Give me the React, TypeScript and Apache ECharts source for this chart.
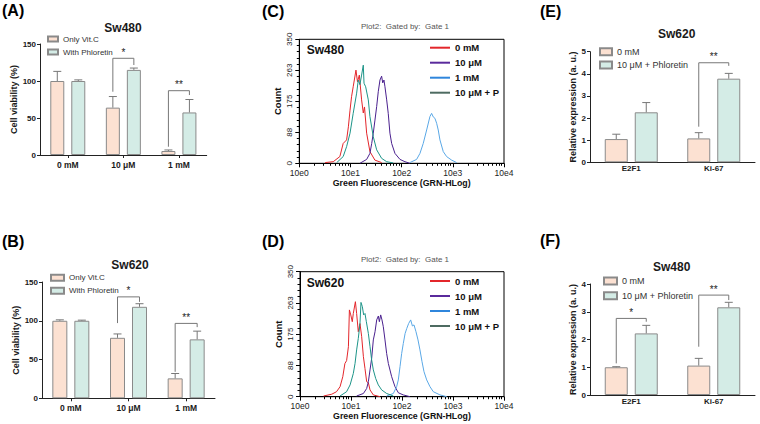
import React, { useEffect, useRef } from "react";
import * as echarts from "echarts";

const FONT = "'Liberation Sans', Arial, Helvetica, sans-serif";

// ---------- Bar panels data ----------
const concCats = ["0 mM", "10 μM", "1 mM"];
const aVitC = [100, 64, 5.4];
const aVitCTop = [113, 79, 6.8];
const aPhlor = [100, 115, 57.5];
const aPhlorTop = [101.5, 117.5, 75];
const aBrackets = [[1, 85.5, 130.7, 121.6], [2, 11.2, 86.9, 81]];
const aStars = ["*", "**"];

const bVitC = [100, 78, 25.7];
const bVitCTop = [101.2, 83, 32];
const bPhlor = [100, 118, 76];
const bPhlorTop = [100.8, 122, 86.6];
const bBrackets = [[1, 97, 130.8, 124.4], [2, 34.2, 96.6, 91.8]];
const bStars = ["*", "**"];

const geneCats = ["E2F1", "Ki-67"];
const eCtrl = [1.05, 1.08];
const eCtrlTop = [1.27, 1.34];
const eTreat = [2.26, 3.78];
const eTreatTop = [2.7, 4.02];
const eBrackets = [[1, 1.61, 4.5, 4.36]];
const eStars = ["**"];

const fCtrl = [1.0, 1.06];
const fCtrlTop = [1.02, 1.32];
const fTreat = [2.22, 3.16];
const fTreatTop = [2.51, 3.34];
const fBrackets = [[0, 1.14, 2.76, 2.64], [1, 1.74, 3.6, 3.42]];
const fStars = ["*", "**"];

// ---------- Flow cytometry histograms (fluorescence, count) ----------
const cRed = [[3.2, 2], [4.6, 4.5], [6.2, 19], [7.2, 56], [8.4, 66], [9.1, 103], [9.8, 150], [10.5, 188], [11.3, 216], [12.8, 263], [13.7, 230], [14.9, 249], [16.5, 179], [17.8, 142], [18.8, 159], [20.7, 85], [24, 33], [30, 9], [40.6, 2]];
const cPurple = [[15.3, 0], [20.7, 11], [24, 28], [26, 56], [27.9, 85], [30.1, 122], [32.5, 160], [34.9, 202], [37.7, 235], [40.6, 246], [42.7, 227], [45.1, 235], [47.2, 216], [51, 179], [54.7, 141], [59, 85], [63.8, 56], [74, 28], [92.7, 11], [116, 4.5], [145, 0]];
const cBlue = [[145, 2], [196, 11], [228, 28], [264, 56], [308, 94], [357, 132], [385, 141], [414, 131], [447, 127], [483, 113], [519, 94], [560, 66], [650, 33], [757, 19], [948, 9], [1186, 2]];
const cTeal = [[5.4, 2], [7.2, 19], [8.4, 47], [9.8, 85], [11.3, 141], [13.2, 198], [14.2, 235], [15.3, 222], [16.5, 249], [17.8, 277], [18.4, 226], [19.8, 216], [22.3, 179], [24, 132], [27.9, 75], [32.5, 38], [40.6, 14], [51, 4.5], [68.5, 1]];

const dRed = [[2.9, 2], [4.2, 7], [5.2, 14], [6.1, 28], [6.9, 56], [7.6, 93], [8.2, 101], [8.9, 140], [9.3, 243], [9.9, 229], [10.6, 210], [11.1, 233], [12.2, 266], [12.9, 233], [13.9, 182], [15, 205], [16.2, 168], [17.5, 112], [18.8, 79], [20.3, 42], [21.9, 39], [23.6, 19], [27.4, 5], [37, 0]];
const dPurple = [[12.9, 2], [17.5, 9], [20.3, 23], [21.9, 42], [23.6, 75], [25.4, 107], [27.4, 159], [29.6, 182], [31.9, 215], [34.4, 226], [36, 210], [38.2, 229], [40.5, 215], [43, 196], [46.4, 159], [50, 121], [54, 93], [62.7, 56], [72.9, 28], [84.8, 11], [106, 5], [143, 0]];
const dBlue = [[50, 2], [67.6, 9], [78.5, 28], [84.7, 47], [91.4, 84], [98.5, 121], [106, 149], [115, 177], [124, 191], [135, 205], [148, 215], [160, 198], [172, 201], [188, 182], [206, 159], [225, 131], [247, 98], [270, 70], [305, 47], [354, 28], [411, 14], [556, 5], [751, 0]];
const dTeal = [[6.1, 2], [8.2, 14], [9.6, 33], [11.1, 65], [12, 93], [12.9, 131], [13.9, 163], [15, 205], [15.7, 264], [16.7, 252], [17.7, 229], [18.8, 233], [20, 210], [21.9, 177], [23.6, 140], [25.4, 103], [27.4, 75], [30.5, 51], [34.3, 33], [39.9, 19], [50, 9], [67.6, 2]];

const histNames = ["0 mM", "10 μM", "1 mM", "10 μM + P"];
const countTicks = [0, 87.5, 175, 262.5, 350];

const PEACH = "#fce1d2";
const GREEN = "#d4ece6";
const BORDER = "#8a8a8a";
const TXT = "#1a1a1a";

function txt(text: string, x: number, y: number, size: number, weight: string, color: string, align = "left") {
  return {
    type: "text",
    x,
    y,
    style: {
      text,
      fontFamily: FONT,
      fontSize: size,
      fontWeight: weight,
      fill: color,
      align,
      verticalAlign: "middle",
      textAlign: align,
      textVerticalAlign: "middle",
    },
  };
}

function errorItem(offset: number, capHalf: number) {
  return (params: any, api: any) => {
    const c = api.value(0);
    const base = api.coord([c, api.value(1)]);
    const top = api.coord([c, api.value(2)]);
    const x = base[0] + offset;
    return {
      type: "group",
      children: [
        { type: "line", shape: { x1: x, y1: base[1], x2: x, y2: top[1] }, style: { stroke: "#777", lineWidth: 1 } },
        { type: "line", shape: { x1: x - capHalf, y1: top[1], x2: x + capHalf, y2: top[1] }, style: { stroke: "#777", lineWidth: 1 } },
      ],
    };
  };
}

function bracketItem(offset: number, stars: string[], starSize: number) {
  return (params: any, api: any) => {
    const c = api.value(0);
    const l = api.coord([c, api.value(1)]);
    const t = api.coord([c, api.value(2)]);
    const r = api.coord([c, api.value(3)]);
    const xl = l[0] - offset;
    const xr = l[0] + offset;
    return {
      type: "group",
      children: [
        {
          type: "polyline",
          shape: { points: [[xl, l[1]], [xl, t[1]], [xr, t[1]], [xr, r[1]]] },
          style: { stroke: "#777", lineWidth: 1, fill: null },
        },
        {
          type: "text",
          style: {
            text: stars[params.dataIndex],
            x: (xl + xr) / 2,
            y: t[1] - 1,
            align: "center",
            verticalAlign: "bottom",
            fontSize: starSize,
            fontFamily: FONT,
            fill: "#222",
          },
        },
      ],
    };
  };
}

function barPanel(p: any) {
  const off = (p.barWidth + p.gap) / 2;
  return {
    animation: false,
    textStyle: { fontFamily: FONT },
    grid: { left: p.left, top: p.top, width: p.width, height: p.height },
    graphic: [
      txt(p.label, p.labelX, p.labelY, 16, "bold", "#000"),
      txt(p.title, p.titleX, p.titleY, 12, "bold", TXT, "center"),
    ],
    legend: {
      orient: "vertical",
      left: p.legLeft,
      top: p.legTop,
      padding: 0,
      itemWidth: p.legW,
      itemHeight: p.legH,
      itemGap: p.legGap,
      icon: "rect",
      data: [p.n1, p.n2],
      textStyle: { fontFamily: FONT, fontSize: p.legFont, color: "#333", lineHeight: p.legLine },
      selectedMode: false,
    },
    xAxis: {
      type: "category",
      data: p.cats,
      axisLine: { lineStyle: { color: "#222", width: 1 } },
      axisTick: { show: p.xTicks, alignWithLabel: true, length: 3, lineStyle: { color: "#222" } },
      axisLabel: { fontFamily: FONT, fontWeight: "bold", fontSize: p.xFont, color: TXT, margin: p.xMargin },
      splitLine: { show: false },
    },
    yAxis: {
      type: "value",
      min: 0,
      max: p.max,
      interval: p.interval,
      name: p.yName,
      nameLocation: "middle",
      nameGap: p.nameGap,
      nameTextStyle: { fontFamily: FONT, fontWeight: "bold", fontSize: p.nameFont, color: TXT },
      axisLine: { show: true, lineStyle: { color: "#222", width: 1 } },
      axisTick: { show: true, length: 3, lineStyle: { color: "#222" } },
      axisLabel: { fontFamily: FONT, fontWeight: "bold", fontSize: 8, color: TXT, margin: 4 },
      splitLine: { show: false },
    },
    series: [
      {
        type: "bar",
        name: p.n1,
        data: p.v1,
        barWidth: p.barWidth,
        barGap: (p.gap / p.barWidth) * 100 + "%",
        itemStyle: { color: PEACH, borderColor: BORDER, borderWidth: 1 },
      },
      {
        type: "bar",
        name: p.n2,
        data: p.v2,
        barWidth: p.barWidth,
        itemStyle: { color: GREEN, borderColor: BORDER, borderWidth: 1 },
      },
      {
        type: "custom",
        renderItem: errorItem(-off, 4),
        data: p.v1.map((v: number, i: number) => [i, v, p.t1[i]]),
        z: 5,
      },
      {
        type: "custom",
        renderItem: errorItem(off, 4),
        data: p.v2.map((v: number, i: number) => [i, v, p.t2[i]]),
        z: 5,
      },
      {
        type: "custom",
        renderItem: bracketItem(off, p.stars, 10),
        data: p.brackets,
        z: 5,
      },
    ],
  };
}

const histColors = ["#e3262b", "#4a208e", "#5aa8e6", "#1d9488"];
const histLegendColors = ["#e3262b", "#5a2a9c", "#2f86dc", "#4d6b61"];

function histPanel(p: any) {
  const sets = p.sets;
  return {
    animation: false,
    textStyle: { fontFamily: FONT },
    grid: {
      left: p.left,
      top: p.top,
      width: p.width,
      height: p.height,
      show: true,
      borderColor: "#000",
      borderWidth: 1,
      backgroundColor: "transparent",
    },
    graphic: [
      txt(p.label, 262, p.labelY, 16, "bold", "#000"),
      txt("Plot2:  Gated by:  Gate 1", 405, p.plotY, 8, "normal", "#555", "center"),
      txt(p.cell, 306.7, p.cellY, 12, "bold", "#111"),
    ],
    legend: {
      orient: "vertical",
      left: 430,
      top: p.legTop,
      padding: 0,
      itemWidth: 20,
      itemHeight: 2,
      itemGap: 4,
      icon: "rect",
      selectedMode: false,
      data: histNames.map((n, i) => ({
        name: n,
        itemStyle: { color: histLegendColors[i] },
        lineStyle: { color: histLegendColors[i] },
      })),
      textStyle: { fontFamily: FONT, fontSize: 9.5, fontWeight: "bold", color: "#111", lineHeight: 11 },
    },
    xAxis: {
      type: "log",
      logBase: 10,
      min: 1,
      max: 10000,
      name: "Green Fluorescence (GRN-HLog)",
      nameLocation: "middle",
      nameGap: 15,
      nameTextStyle: { fontFamily: FONT, fontWeight: "bold", fontSize: 8.8, color: "#111" },
      axisLine: { lineStyle: { color: "#000", width: 1 } },
      axisTick: { length: 4, lineStyle: { color: "#000" } },
      minorTick: { show: true, splitNumber: 9, length: 2.5, lineStyle: { color: "#000" } },
      axisLabel: {
        fontFamily: FONT,
        fontSize: 8.5,
        color: "#222",
        margin: 5,
        formatter: (v: number) => "10e" + Math.round(Math.log10(v)),
      },
      splitLine: { show: false },
    },
    yAxis: {
      type: "value",
      min: countTicks[0],
      max: countTicks[countTicks.length - 1],
      interval: countTicks[1],
      name: "Count",
      nameLocation: "middle",
      nameGap: 17,
      nameTextStyle: { fontFamily: FONT, fontWeight: "bold", fontSize: 9.5, color: "#111" },
      axisLine: { show: true, lineStyle: { color: "#000", width: 1 } },
      axisTick: { show: true, length: 4, lineStyle: { color: "#000" } },
      minorTick: { show: true, splitNumber: 5, length: 2.5, lineStyle: { color: "#000" } },
      axisLabel: {
        rotate: 90,
        fontFamily: FONT,
        fontSize: 8,
        color: "#222",
        margin: 6,
        formatter: (v: number) => String(Math.round(v)),
      },
      splitLine: { show: false },
    },
    series: histNames.map((n, i) => ({
      type: "line",
      name: n,
      data: sets[i],
      showSymbol: false,
      symbol: "none",
      lineStyle: { width: 1, color: histColors[i] },
      itemStyle: { color: histColors[i] },
      z: i === 3 ? 3 : 2,
    })),
  };
}

const optA = barPanel({
  left: 40, top: 44, width: 166.7, height: 111,
  label: "(A)", labelX: 2, labelY: 10,
  title: "Sw480", titleX: 123, titleY: 28,
  legLeft: 47, legTop: 34, legW: 10, legH: 5, legGap: 3, legFont: 8, legLine: 10,
  n1: "Only Vit.C", n2: "With Phloretin",
  cats: concCats, xTicks: true, xFont: 8.5, xMargin: 5,
  max: 150, interval: 50, yName: "Cell viability (%)", nameGap: 20, nameFont: 9,
  barWidth: 14, gap: 7,
  v1: aVitC, t1: aVitCTop, v2: aPhlor, t2: aPhlorTop, brackets: aBrackets, stars: aStars,
});

const optB = barPanel({
  left: 42, top: 282, width: 173, height: 116.3,
  label: "(B)", labelX: 2, labelY: 241,
  title: "Sw620", titleX: 130, titleY: 265,
  legLeft: 50, legTop: 272.7, legW: 13, legH: 6, legGap: 3, legFont: 8, legLine: 10,
  n1: "Only Vit.C", n2: "With Phloretin",
  cats: concCats, xTicks: true, xFont: 8.5, xMargin: 5,
  max: 150, interval: 50, yName: "Cell viability (%)", nameGap: 20, nameFont: 9,
  barWidth: 15, gap: 7,
  v1: bVitC, t1: bVitCTop, v2: bPhlor, t2: bPhlorTop, brackets: bBrackets, stars: bStars,
});

const optE = barPanel({
  left: 590, top: 51.7, width: 165, height: 110.6,
  label: "(E)", labelX: 540, labelY: 11,
  title: "Sw620", titleX: 676.7, titleY: 34.3,
  legLeft: 599, legTop: 46.7, legW: 12, legH: 7, legGap: 3.3, legFont: 9, legLine: 10,
  n1: "0 mM", n2: "10 μM + Phloretin",
  cats: geneCats, xTicks: false, xFont: 8, xMargin: 2,
  max: 5, interval: 1, yName: "Relative expression (a. u.)", nameGap: 13, nameFont: 9,
  barWidth: 23, gap: 7,
  v1: eCtrl, t1: eCtrlTop, v2: eTreat, t2: eTreatTop, brackets: eBrackets, stars: eStars,
});

const optF = barPanel({
  left: 590, top: 284, width: 165, height: 111,
  label: "(F)", labelX: 540, labelY: 240,
  title: "Sw480", titleX: 671.7, titleY: 266.7,
  legLeft: 603, legTop: 275.5, legW: 13, legH: 7, legGap: 3.7, legFont: 9, legLine: 11,
  n1: "0 mM", n2: "10 μM + Phloretin",
  cats: geneCats, xTicks: false, xFont: 8, xMargin: 2,
  max: 4, interval: 1, yName: "Relative expression (a. u.)", nameGap: 13, nameFont: 9,
  barWidth: 23, gap: 7,
  v1: fCtrl, t1: fCtrlTop, v2: fTreat, t2: fTreatTop, brackets: fBrackets, stars: fStars,
});

const optC = histPanel({
  left: 299.3, top: 39.3, width: 204.7, height: 124,
  label: "(C)", labelY: 11, plotY: 26, cell: "Sw480", cellY: 50, legTop: 42.2,
  sets: [cRed, cPurple, cBlue, cTeal],
});

const optD = histPanel({
  left: 300, top: 271.7, width: 204, height: 125,
  label: "(D)", labelY: 241, plotY: 259.3, cell: "Sw620", cellY: 283.3, legTop: 275.5,
  sets: [dRed, dPurple, dBlue, dTeal],
});

export default function App() {
  const refs = useRef<(HTMLDivElement | null)[]>([]);
  useEffect(() => {
    const opts = [optA, optB, optC, optD, optE, optF];
    const charts = opts.map((o, i) => {
      const c = echarts.init(refs.current[i] as HTMLDivElement, undefined, { renderer: "svg" });
      c.setOption(o as any);
      return c;
    });
    return () => charts.forEach((c) => c.dispose());
  }, []);
  return (
    <div style={{ position: "fixed", left: 0, top: 0, width: 760, height: 424, background: "#fff", overflow: "hidden" }}>
      {[0, 1, 2, 3, 4, 5].map((i) => (
        <div
          key={i}
          ref={(el) => {
            refs.current[i] = el;
          }}
          style={{ position: "absolute", left: 0, top: 0, width: 760, height: 424 }}
        />
      ))}
    </div>
  );
}
